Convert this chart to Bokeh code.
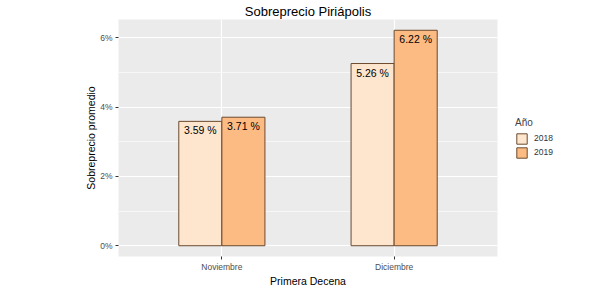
from bokeh.plotting import figure
from bokeh.models import (ColumnDataSource, FactorRange, FixedTicker, PrintfTickFormatter,
                          Legend, LegendItem, Range1d)
from bokeh.core.properties import value
from bokeh.transform import dodge
from bokeh.embed import file_html
from bokeh.resources import INLINE

months = ["Noviembre", "Diciembre"]
years = ["2018", "2019"]
values_2018 = [3.59, 5.26]
values_2019 = [3.71, 6.22]
y_ticks = [0, 2, 4, 6]
y_minor = [1, 3, 5]

FONT = "Liberation Sans"
c2018 = "#FEE6CE"
c2019 = "#FDBB84"
outline = "#6B4A2E"

src = ColumnDataSource(dict(
    month=months,
    v2018=values_2018,
    v2019=values_2019,
    l2018=[f"{v:.2f} %" for v in values_2018],
    l2019=[f"{v:.2f} %" for v in values_2019],
))

p = figure(frame_width=379, frame_height=237, output_backend="svg", toolbar_location=None,
           x_range=FactorRange(factors=months, range_padding=0.1),
           y_range=Range1d(-0.311, 6.531),
           title="Sobreprecio Piriápolis")
p.min_border_left = 118
p.min_border_right = 118
p.min_border_top = 18
p.min_border_bottom = 52
p.background_fill_color = "#EBEBEB"
p.border_fill_color = "white"
p.outline_line_color = None

p.title.text_font = FONT
p.title.text_font_size = "13px"
p.title.text_font_style = "normal"
p.title.align = "center"
p.title.text_color = "black"
p.title.standoff = 2

r1 = p.vbar(x=dodge("month", -0.125, range=p.x_range), top="v2018", width=0.25, source=src,
            fill_color=c2018, line_color=outline, line_width=1)
r2 = p.vbar(x=dodge("month", 0.125, range=p.x_range), top="v2019", width=0.25, source=src,
            fill_color=c2019, line_color=outline, line_width=1)

p.text(x=dodge("month", -0.125, range=p.x_range), y="v2018", text="l2018", source=src,
       text_align="center", text_baseline="middle", y_offset=9,
       text_font=value(FONT), text_font_size="10.5px", text_color="black")
p.text(x=dodge("month", 0.125, range=p.x_range), y="v2019", text="l2019", source=src,
       text_align="center", text_baseline="middle", y_offset=9,
       text_font=value(FONT), text_font_size="10.5px", text_color="black")

p.yaxis.ticker = FixedTicker(ticks=y_ticks, minor_ticks=y_minor)
p.yaxis.formatter = PrintfTickFormatter(format="%d%%")
for ax in (p.xaxis[0], p.yaxis[0]):
    ax.axis_line_color = None
    ax.major_tick_line_color = "#333333"
    ax.major_tick_out = 3
    ax.major_tick_in = 0
    ax.minor_tick_line_color = None
    ax.major_label_text_font = FONT
    ax.major_label_text_font_size = "8.5px"
    ax.major_label_text_color = "#4D4D4D"
    ax.axis_label_text_font = FONT
    ax.axis_label_text_font_size = "10.5px"
    ax.axis_label_text_font_style = "normal"
    ax.axis_label_text_color = "black"
    ax.major_label_standoff = 2
p.xaxis.axis_label = "Primera Decena"
p.yaxis.axis_label = "Sobreprecio promedio"
p.xaxis.axis_label_standoff = 0
p.yaxis.axis_label_standoff = 0

p.xgrid.grid_line_color = "white"
p.xgrid.grid_line_width = 1.2
p.ygrid.grid_line_color = "white"
p.ygrid.grid_line_width = 1.2
p.ygrid.minor_grid_line_color = "white"
p.ygrid.minor_grid_line_width = 0.6

legend = Legend(items=[LegendItem(label=years[0], renderers=[r1]),
                       LegendItem(label=years[1], renderers=[r2])],
                title="Año", title_text_font=FONT, title_text_font_size="10px",
                title_text_font_style="normal", title_standoff=4,
                label_text_font=FONT, label_text_font_size="8.5px", label_text_color="#333333",
                glyph_width=13, glyph_height=13, spacing=1, label_standoff=6,
                border_line_color=None, background_fill_alpha=0,
                padding=0, margin=18, location="left")
p.add_layout(legend, "right")

open("out.html", "w").write(file_html(p, INLINE))
